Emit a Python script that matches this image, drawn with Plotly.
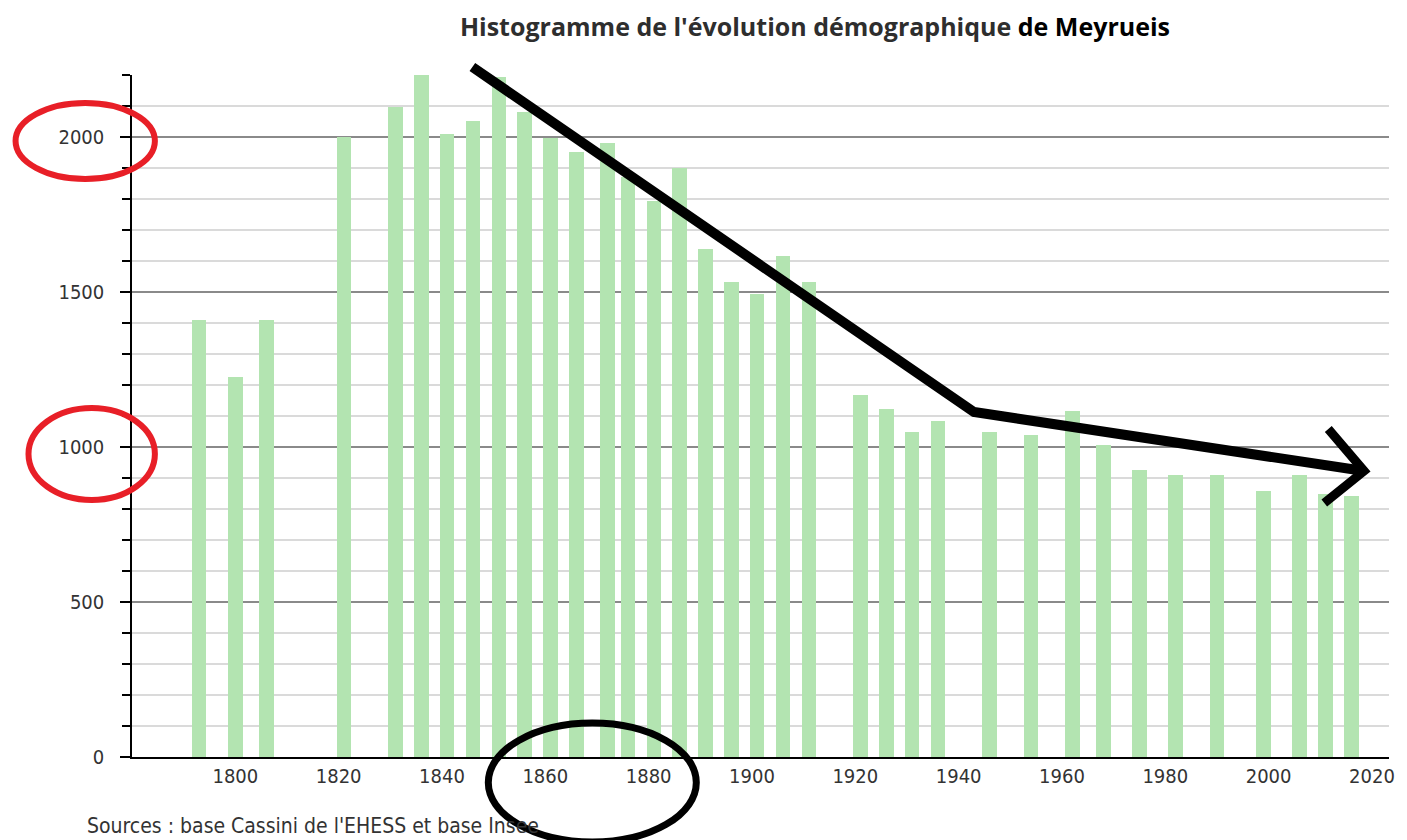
import plotly.graph_objects as go

# ---- data ----
years = [1793, 1800, 1806, 1821, 1831, 1836, 1841, 1846, 1851, 1856, 1861, 1866,
         1872, 1876, 1881, 1886, 1891, 1896, 1901, 1906, 1911, 1921, 1926, 1931,
         1936, 1946, 1954, 1962, 1968, 1975, 1982, 1990, 1999, 2006, 2011, 2016]
population = [1409, 1225, 1409, 2000, 2096, 2203, 2011, 2051, 2194, 2080, 1997, 1951,
              1981, 1870, 1793, 1900, 1638, 1533, 1495, 1616, 1533, 1167, 1123, 1047,
              1085, 1047, 1039, 1115, 1008, 925, 909, 909, 857, 909, 850, 842]
x_ticks = list(range(1800, 2021, 20))
y_ticks = list(range(0, 2001, 500))

title_main = "Histogramme de l'évolution démographique"
title_place = "de Meyrueis"
source_text = "Sources : base Cassini de l'EHESS et base Insee"

# ---- layout geometry ----
W, H = 1407, 840
ML, MR, MT, MB = 132, 12, 75, 83
PW, PH = W - ML - MR, H - MT - MB


def P(px, py):
    """pixel position on the page -> paper coordinates (for hand-drawn marks)"""
    return (px - ML) / PW, (H - MB - py) / PH


narrow = "Liberation Sans Narrow, Arial Narrow, DejaVu Sans Condensed, sans-serif"

fig = go.Figure()
fig.add_trace(go.Bar(
    x=years, y=population, width=2.8,
    marker=dict(color="#b3e4b1", line=dict(width=0)),
    hovertemplate="%{x}: %{y}<extra></extra>",
))

shapes = []
# black hand-drawn trend arrow
a = P(474, 67); b = P(978, 412); c = P(1370, 471)
shapes.append(dict(type="path", xref="paper", yref="paper",
                   path=f"M {a[0]} {a[1]} L {b[0]} {b[1]} L {c[0]} {c[1]}",
                   line=dict(color="black", width=10)))
h1 = P(1334, 429); h2 = P(1330, 503)
shapes.append(dict(type="path", xref="paper", yref="paper",
                   path=f"M {h1[0]} {h1[1]} L {c[0]} {c[1]} L {h2[0]} {h2[1]}",
                   line=dict(color="black", width=9)))


def ellipse(x0, y0, x1, y1, color, width):
    p0 = P(x0, y1); p1 = P(x1, y0)
    return dict(type="circle", xref="paper", yref="paper",
                x0=p0[0], y0=p0[1], x1=p1[0], y1=p1[1],
                line=dict(color=color, width=width))


shapes.append(ellipse(15, 103, 155, 179, "#e81f27", 6))
shapes.append(ellipse(28, 408, 155, 500, "#e81f27", 6))
shapes.append(ellipse(490, 723, 699, 842, "black", 7))

sx, sy = P(85, 826)

fig.update_layout(
    width=W, height=H, autosize=False,
    margin=dict(l=ML, r=MR, t=MT, b=MB),
    paper_bgcolor="white", plot_bgcolor="white",
    showlegend=False,
    bargap=0,
    title=dict(
        text=f"<b>{title_main}</b> <b><span style='color:#000000'>{title_place}</span></b>",
        font=dict(family="Open Sans, sans-serif", size=25, color="#2e2e2e"),
        x=815 / W, xref="container", xanchor="center",
        y=1 - 27 / H, yref="container", yanchor="middle",
    ),
    xaxis=dict(
        range=[1780, 2023.3], tickvals=x_ticks, ticks="",
        showgrid=False, zeroline=False,
        showline=True, linecolor="black", linewidth=2,
        tickfont=dict(family=narrow, size=20, color="#333333"),
    ),
    yaxis=dict(
        range=[0, 2200], tickvals=y_ticks,
        ticks="outside", ticklen=10, tickwidth=1.5, tickcolor="black",
        showline=True, linecolor="black", linewidth=1.5,
        showgrid=True, gridcolor="#8a8a8a", gridwidth=2,
        zeroline=False,
        ticklabelstandoff=12,
        tickfont=dict(family=narrow, size=20, color="#333333"),
        minor=dict(dtick=100, ticks="outside", ticklen=8, tickcolor="black",
                   showgrid=True, gridcolor="#dadada", gridwidth=2),
    ),
    shapes=shapes,
    annotations=[dict(
        text=source_text, xref="paper", yref="paper", x=sx, y=sy,
        xanchor="left", yanchor="middle", showarrow=False,
        font=dict(family=narrow, size=21, color="#333333"),
    )],
)

fig.write_html("out.html", config={"displayModeBar": False},
               post_script="document.body.style.margin='0';document.body.style.overflow='hidden';")
